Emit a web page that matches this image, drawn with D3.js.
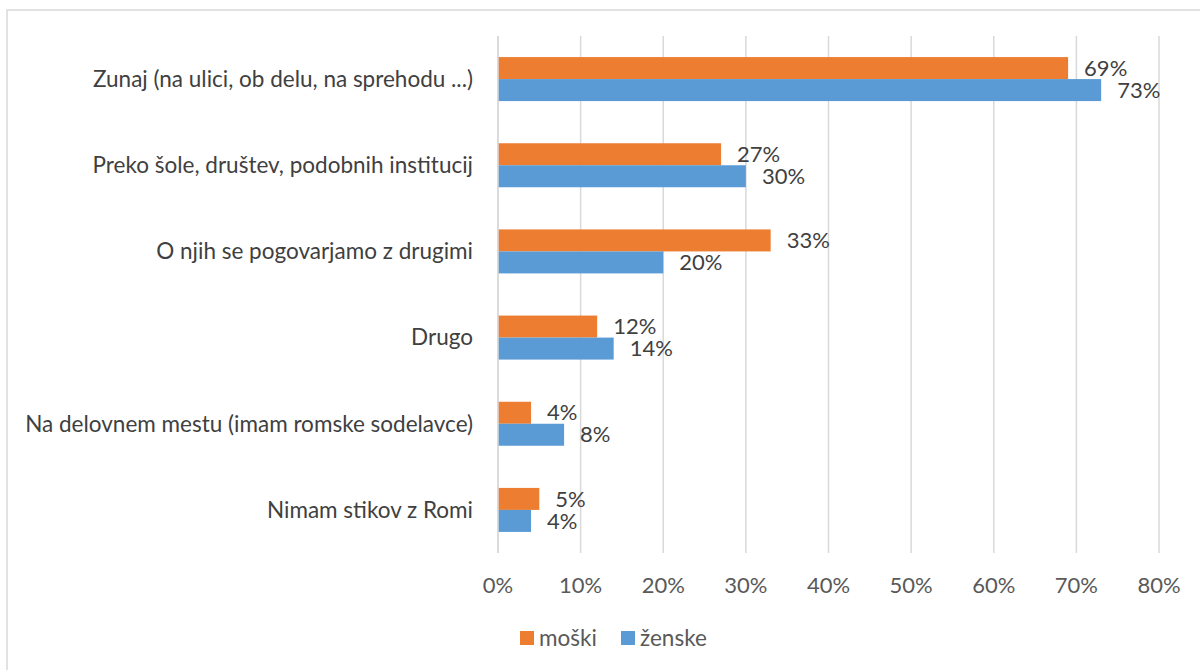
<!DOCTYPE html>
<html><head><meta charset="utf-8">
<script src="https://cdn.jsdelivr.net/npm/d3@7"></script>
<style>body{margin:0;background:#fff;} svg{display:block;}</style>
</head><body>
<svg id="c" width="1200" height="670"></svg>
<script>
const categories = ["Zunaj (na ulici, ob delu, na sprehodu ...)", "Preko šole, društev, podobnih institucij", "O njih se pogovarjamo z drugimi", "Drugo", "Na delovnem mestu (imam romske sodelavce)", "Nimam stikov z Romi"];
const moski = [69, 27, 33, 12, 4, 5];
const zenske = [73, 30, 20, 14, 8, 4];
const seriesNames = ["moški", "ženske"];
const ticks = [0, 10, 20, 30, 40, 50, 60, 70, 80];
const colors = ["#ED7D31", "#5B9BD5"];

const svg = d3.select("#c");
const font = "Lato, sans-serif";
const fsText = 22.5, fsNum = 22;
svg.append("rect").attr("x", 7).attr("y", 10).attr("width", 1210).attr("height", 680)
  .attr("fill", "#fff").attr("stroke", "#d9d9d9").attr("stroke-width", 1.5);

const x = d3.scaleLinear().domain([0, 80]).range([498, 1159]);
const y = d3.scaleBand().domain(categories).range([36, 553]);
const barH = 22;

const g = svg.append("g");
g.selectAll("line.grid").data(ticks).enter().append("line")
  .attr("x1", d => x(d)).attr("x2", d => x(d)).attr("y1", 36).attr("y2", 553)
  .attr("stroke", "#d9d9d9").attr("stroke-width", 1.5);

const series = [moski, zenske];
series.forEach((vals, si) => {
  g.selectAll("rect.s" + si).data(categories).enter().append("rect")
    .attr("x", x(0)).attr("y", d => y(d) + y.bandwidth() / 2 - barH + si * barH)
    .attr("width", (d, i) => x(vals[i]) - x(0)).attr("height", barH)
    .attr("fill", colors[si]);
  g.selectAll("text.l" + si).data(categories).enter().append("text")
    .attr("x", (d, i) => x(vals[i]) + 16)
    .attr("y", d => y(d) + y.bandwidth() / 2 - barH / 2 + si * barH)
    .attr("dy", "0.35em").attr("font-family", font).attr("font-size", fsNum).attr("fill", "#404040")
    .text((d, i) => vals[i] + "%");
});

g.append("line").attr("x1", x(0)).attr("x2", x(0)).attr("y1", 36).attr("y2", 553)
  .attr("stroke", "#d9d9d9").attr("stroke-width", 1.5);
g.selectAll("text.cat").data(categories).enter().append("text")
  .attr("x", 473).attr("y", d => y(d) + y.bandwidth() / 2).attr("dy", "0.35em")
  .attr("text-anchor", "end").attr("font-family", font).attr("font-size", fsText).attr("fill", "#404040")
  .text(d => d);

g.selectAll("text.tick").data(ticks).enter().append("text")
  .attr("x", d => x(d)).attr("y", 585).attr("dy", "0.35em").attr("text-anchor", "middle")
  .attr("font-family", font).attr("font-size", fsNum).attr("fill", "#595959")
  .text(d => d + "%");

const leg = svg.append("g");
const legX = [520, 621];
seriesNames.forEach((n, i) => {
  leg.append("rect").attr("x", legX[i]).attr("y", 631).attr("width", 14).attr("height", 14).attr("fill", colors[i]);
  leg.append("text").attr("x", legX[i] + 19).attr("y", 638).attr("dy", "0.35em")
    .attr("font-family", font).attr("font-size", fsText).attr("fill", "#595959").text(n);
});
</script>
</body></html>
